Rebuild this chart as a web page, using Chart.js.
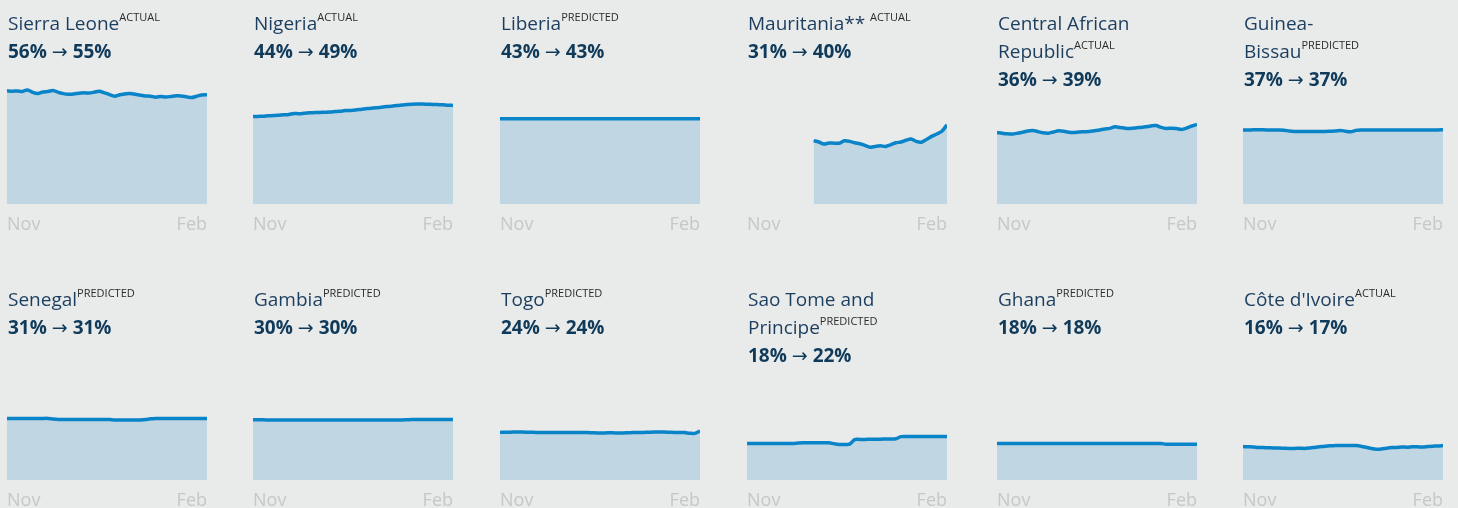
<!DOCTYPE html>
<html>
<head>
<meta charset="utf-8">
<script src="https://cdn.jsdelivr.net/npm/chart.js@4.4.1/dist/chart.umd.min.js"></script>
<style>
    html, body {
        margin: 0;
        padding: 0;
        width: 1458px;
        height: 508px;
        overflow: hidden;
        background: #e9eaea;
        font-family: 'Open Sans', 'Noto Sans', sans-serif;
    }
    .panel canvas {
        position: absolute;
    }
    .label {
        position: absolute;
        width: 176px;
        line-height: 28px;
        font-size: 19px;
    }
    .label .name {
        color: #1b3d5e;
    }
    .label .tag {
        font-size: 11px;
        line-height: 1;
        color: #2b2b2b;
        position: relative;
        top: -9px;
    }
    .label .change {
        font-weight: 700;
        color: #0f3a5a;
    }
    .label .arrow {
        font-weight: 400;
        font-family: 'Noto Sans', 'DejaVu Sans', sans-serif;
    }
</style>
</head>
<body>
<div id="grid"></div>
<script>
// roughly every 3 days, Nov 1 -> Feb 26
const dates = [
    'Nov 1', 'Nov 4', 'Nov 7', 'Nov 10', 'Nov 13', 'Nov 16', 'Nov 19', 'Nov 22', 'Nov 25', 'Nov 28',
    'Dec 1', 'Dec 4', 'Dec 7', 'Dec 10', 'Dec 13', 'Dec 16', 'Dec 19', 'Dec 22', 'Dec 25', 'Dec 28', 'Dec 31',
    'Jan 3', 'Jan 6', 'Jan 9', 'Jan 12', 'Jan 15', 'Jan 18', 'Jan 21', 'Jan 24', 'Jan 27', 'Jan 30',
    'Feb 2', 'Feb 5', 'Feb 8', 'Feb 11', 'Feb 14', 'Feb 17', 'Feb 20', 'Feb 23', 'Feb 26'
];
const tickLabels = ['Nov', 'Feb'];

// values in percent
const sierraLeone = [56.6, 56.4, 56.5, 56.3, 57.0, 55.8, 55.2, 56.0, 56.3, 56.8, 55.8, 55.2, 54.9, 55.0, 55.4, 55.6, 55.5, 55.9, 56.4, 55.6,
    54.7, 53.9, 54.6, 55.0, 55.3, 54.9, 54.4, 54.0, 53.9, 53.4, 53.8, 53.5, 53.8, 54.1, 54.0, 53.6, 53.2, 53.9, 54.5, 54.6];
const nigeria = [43.7, 43.8, 43.9, 44.1, 44.2, 44.4, 44.6, 44.8, 45.3, 45.1, 45.4, 45.6, 45.7, 45.8, 45.9, 46.0, 46.2, 46.4, 46.7, 46.8,
    47.0, 47.3, 47.6, 47.9, 48.1, 48.4, 48.7, 48.9, 49.2, 49.5, 49.7, 49.9, 50.0, 50.0, 49.9, 49.8, 49.7, 49.6, 49.4, 49.3];
const liberia = [42.6, 42.6, 42.6, 42.6, 42.6, 42.6, 42.6, 42.6, 42.6, 42.6, 42.6, 42.6, 42.6, 42.6, 42.6, 42.6, 42.6, 42.6, 42.6, 42.6,
    42.6, 42.6, 42.6, 42.6, 42.6, 42.6, 42.6, 42.6, 42.6, 42.6, 42.6, 42.6, 42.6, 42.6, 42.6, 42.6, 42.6, 42.6, 42.6, 42.6];
const mauritania = [null, null, null, null, null, null, null, null, null, null, null, null, null,
    31.7, 31.0, 30.0, 30.5, 30.4, 30.4, 31.6, 31.3, 30.6, 30.1, 29.3, 28.4, 28.8, 29.1, 28.8, 29.6, 30.6,
    31.0, 31.9, 32.5, 31.3, 30.9, 32.3, 33.8, 35.0, 36.4, 39.6];
const centralAfrican = [35.8, 35.4, 35.1, 35.0, 35.4, 35.9, 36.5, 36.7, 36.2, 35.6, 35.4, 36.0, 36.6, 36.4, 35.9, 35.8, 36.0, 36.1, 36.2, 36.6,
    37.0, 37.5, 37.8, 38.6, 38.3, 37.9, 37.8, 38.0, 38.3, 38.6, 39.0, 39.2, 38.3, 37.8, 37.9, 37.7, 37.3, 38.0, 39.0, 39.8];
const guineaBissau = [37.0, 37.0, 37.1, 37.1, 37.1, 37.0, 37.0, 37.0, 36.9, 36.5, 36.3, 36.3, 36.3, 36.3, 36.3, 36.3, 36.3, 36.4, 36.5, 36.8,
    36.4, 36.1, 36.8, 37.0, 37.0, 37.0, 37.0, 37.0, 37.0, 37.0, 37.0, 37.0, 37.0, 37.0, 37.0, 37.0, 37.0, 37.0, 37.0, 37.1];
const senegal = [30.8, 30.8, 30.8, 30.8, 30.8, 30.8, 30.8, 30.8, 30.8, 30.5, 30.3, 30.3, 30.3, 30.3, 30.3, 30.3, 30.3, 30.3, 30.3, 30.3,
    30.2, 30.0, 30.0, 30.0, 30.0, 30.0, 30.0, 30.2, 30.6, 30.8, 30.8, 30.8, 30.8, 30.8, 30.8, 30.8, 30.8, 30.8, 30.8, 30.8];
const gambia = [30.1, 30.1, 30.1, 30.0, 30.0, 30.0, 30.0, 30.0, 30.0, 30.0, 30.0, 30.0, 30.0, 30.0, 30.0, 30.0, 30.0, 30.0, 30.0, 30.0,
    30.0, 30.0, 30.0, 30.0, 30.0, 30.0, 30.0, 30.0, 30.0, 30.0, 30.1, 30.2, 30.2, 30.2, 30.2, 30.2, 30.2, 30.2, 30.2, 30.2];
const togo = [23.8, 23.9, 23.9, 24.0, 24.0, 23.9, 23.9, 23.8, 23.8, 23.8, 23.8, 23.8, 23.8, 23.8, 23.8, 23.7, 23.7, 23.7, 23.6, 23.5,
    23.5, 23.6, 23.6, 23.5, 23.5, 23.6, 23.7, 23.7, 23.8, 23.9, 24.0, 24.0, 24.0, 23.9, 23.8, 23.8, 23.7, 23.4, 23.3, 24.5];
const saoTome = [18.3, 18.3, 18.3, 18.3, 18.3, 18.3, 18.3, 18.3, 18.3, 18.3, 18.5, 18.6, 18.6, 18.6, 18.6, 18.6, 18.6, 18.1, 17.8, 17.8,
    17.9, 20.2, 20.3, 20.3, 20.4, 20.4, 20.4, 20.5, 20.5, 20.6, 21.7, 21.8, 21.8, 21.8, 21.8, 21.8, 21.8, 21.8, 21.8, 21.8];
const ghana = [18.3, 18.3, 18.3, 18.3, 18.3, 18.3, 18.3, 18.3, 18.3, 18.3, 18.3, 18.3, 18.3, 18.3, 18.3, 18.3, 18.3, 18.3, 18.3, 18.3,
    18.3, 18.3, 18.3, 18.3, 18.3, 18.3, 18.3, 18.3, 18.3, 18.3, 18.3, 18.3, 18.2, 17.9, 17.9, 17.9, 17.9, 17.9, 17.9, 17.9];
const coteDIvoire = [16.7, 16.6, 16.5, 16.3, 16.2, 16.1, 16.0, 16.0, 15.9, 15.8, 15.8, 15.9, 15.8, 16.0, 16.3, 16.6, 16.9, 17.1, 17.2, 17.3,
    17.3, 17.3, 17.2, 16.9, 16.4, 15.8, 15.4, 15.5, 15.9, 16.2, 16.3, 16.5, 16.4, 16.6, 16.6, 16.5, 16.7, 16.9, 17.0, 17.2];

const panels = [
    { name: 'Sierra Leone', tag: 'ACTUAL', from: '56%', to: '55%', values: sierraLeone },
    { name: 'Nigeria', tag: 'ACTUAL', from: '44%', to: '49%', values: nigeria },
    { name: 'Liberia', tag: 'PREDICTED', from: '43%', to: '43%', values: liberia },
    { name: 'Mauritania** ', tag: 'ACTUAL', from: '31%', to: '40%', values: mauritania },
    { name: 'Central African Republic', tag: 'ACTUAL', from: '36%', to: '39%', values: centralAfrican },
    { name: 'Guinea-Bissau', tag: 'PREDICTED', from: '37%', to: '37%', values: guineaBissau },
    { name: 'Senegal', tag: 'PREDICTED', from: '31%', to: '31%', values: senegal },
    { name: 'Gambia', tag: 'PREDICTED', from: '30%', to: '30%', values: gambia },
    { name: 'Togo', tag: 'PREDICTED', from: '24%', to: '24%', values: togo },
    { name: 'Sao Tome and Principe', tag: 'PREDICTED', from: '18%', to: '22%', values: saoTome },
    { name: 'Ghana', tag: 'PREDICTED', from: '18%', to: '18%', values: ghana },
    { name: 'C\u00f4te d\'Ivoire', tag: 'ACTUAL', from: '16%', to: '17%', values: coteDIvoire }
];

const colLefts = [7, 253, 500, 747, 997, 1243];
const rowTops = [0, 276];

function buildPanel(panel, index) {
    const grid = document.getElementById('grid');
    const col = index % 6;
    const row = Math.floor(index / 6);
    const left = colLefts[col];
    const top = rowTops[row];

    const wrap = document.createElement('div');
    wrap.className = 'panel';

    const canvas = document.createElement('canvas');
    canvas.width = 200;
    canvas.height = 240;
    canvas.style.left = left + 'px';
    canvas.style.top = top + 'px';
    canvas.style.width = '200px';
    canvas.style.height = '240px';
    wrap.appendChild(canvas);

    const label = document.createElement('div');
    label.className = 'label';
    label.style.left = (left + 1) + 'px';
    label.style.top = (top + 9) + 'px';
    label.innerHTML = `<span class="name">${panel.name}</span><span class="tag">${panel.tag}</span><br>` +
        `<span class="change">${panel.from} <span class="arrow">\u2192</span> ${panel.to}</span>`;
    wrap.appendChild(label);

    grid.appendChild(wrap);

    new Chart(canvas, {
        type: 'line',
        data: {
            labels: dates,
            datasets: [{
                data: panel.values,
                borderColor: '#0a84c8',
                backgroundColor: '#c1d6e3',
                fill: 'origin',
                borderWidth: 3.5,
                pointRadius: 0,
                tension: 0.3,
                spanGaps: false
            }]
        },
        options: {
            responsive: false,
            animation: false,
            devicePixelRatio: 1,
            events: [],
            layout: { padding: { top: 4, left: 0, right: 0, bottom: 0 } },
            plugins: {
                legend: { display: false },
                tooltip: { enabled: false }
            },
            scales: {
                y: { display: false, min: 0, max: 100 },
                x: {
                    grid: { display: false, drawTicks: false },
                    border: { display: false },
                    afterFit: scale => {
                        scale.height = 36;
                        // keep the plot flush with the canvas edges
                        scale.paddingLeft = 0;
                        scale.paddingRight = 0;
                    },
                    ticks: {
                        autoSkip: false,
                        maxRotation: 0,
                        align: 'inner',
                        padding: 10,
                        color: '#c5c7c8',
                        font: { family: 'Open Sans', size: 18 },
                        callback: (value, i, ticks) => {
                            if (i === 0) return tickLabels[0];
                            if (i === ticks.length - 1) return tickLabels[1];
                            return '';
                        }
                    }
                }
            }
        }
    });
}

document.addEventListener('DOMContentLoaded', () => {
    panels.forEach((p, i) => buildPanel(p, i));
});
</script>
</body>
</html>
